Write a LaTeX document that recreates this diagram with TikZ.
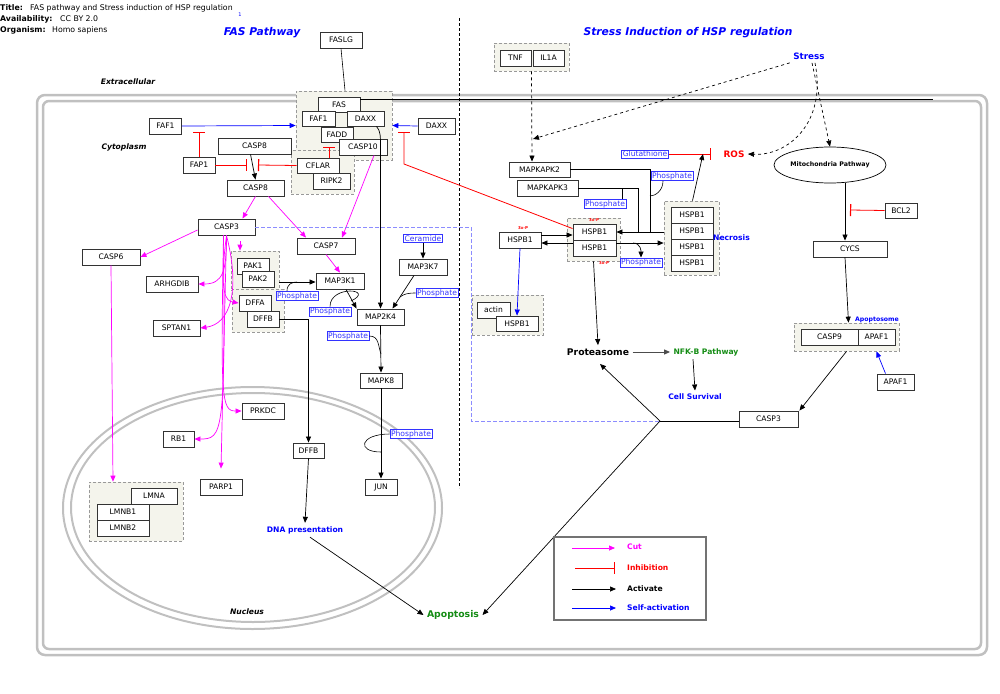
\documentclass[tikz,border=0pt]{standalone}
\usepackage{fontspec}
\setmainfont{DejaVu Sans}
\usetikzlibrary{arrows.meta,shapes.geometric}
\definecolor{groupfill}{RGB}{244,244,236}
\definecolor{membrane}{RGB}{192,192,192}
\definecolor{pathgreen}{RGB}{20,140,20}
\definecolor{cutpink}{RGB}{255,0,255}
\definecolor{hspblue}{RGB}{0,0,255}
\definecolor{inhred}{RGB}{255,0,0}
\begin{document}
\begin{tikzpicture}[x=1pt, y=-1pt,
  every node/.style={font=\fontsize{7.6pt}{9pt}\selectfont},
  box/.style={draw=black!80, line width=0.9pt, fill=white, inner sep=0pt, minimum height=16pt},
  grp/.style={draw=black!40, fill=groupfill, dash pattern=on 3pt off 2pt, line width=0.7pt, inner sep=0pt},
  phos/.style={draw=hspblue!80, text=hspblue!80, fill=white, line width=0.6pt, inner sep=1pt},
  lbl/.style={font=\bfseries\fontsize{7.6pt}{9pt}\selectfont},
  cmp/.style={font=\bfseries\itshape\fontsize{7.6pt}{9pt}\selectfont},
  hdr/.style={anchor=west, inner sep=0pt, font=\fontsize{7.8pt}{9pt}\selectfont},
  tag/.style={text=inhred, font=\bfseries\fontsize{4pt}{5pt}\selectfont, inner sep=0pt},
  actarrow/.style={draw=black, line width=0.7pt, -{Triangle[length=6pt,width=5pt]}},
  cutarrow/.style={draw=cutpink, line width=0.7pt, -{Triangle[length=6pt,width=5pt]}},
  selfarrow/.style={draw=hspblue, line width=0.7pt, -{Triangle[length=6pt,width=5pt]}},
  inharrow/.style={draw=inhred, line width=0.8pt, -{Bar[width=12pt,line width=1.2pt]}},
  phline/.style={draw=black, line width=0.6pt},
  blueline/.style={color=hspblue!45, dash pattern=on 4pt off 2pt, line width=1pt}]
  \useasboundingbox (0,0) rectangle (1000,693);
  % header and titles
  \node[hdr, font=\bfseries\fontsize{7.8pt}{9pt}\selectfont] (titlekey) at (0,8) {Title:};
  \node[hdr] (titleval) at (30,8) {FAS pathway and Stress induction of HSP regulation};
  \node[hdr, font=\bfseries\fontsize{7.8pt}{9pt}\selectfont] (availkey) at (0,19) {Availability:};
  \node[hdr] (availval) at (60,19) {CC BY 2.0};
  \node[hdr, font=\bfseries\fontsize{7.8pt}{9pt}\selectfont] (orgkey) at (0,30) {Organism:};
  \node[hdr] (orgval) at (52,30) {Homo sapiens};
  \node[text=hspblue, font=\fontsize{5pt}{6pt}\selectfont] (refone) at (240,15) {1};
  \node[text=hspblue, font=\bfseries\itshape\fontsize{10.7pt}{12pt}\selectfont] (fastitle) at (262,33) {FAS Pathway};
  \node[text=hspblue, font=\bfseries\itshape\fontsize{10.7pt}{12pt}\selectfont] (hsptitle) at (688,33) {Stress Induction of HSP regulation};
  % compartments
  \draw[membrane, line width=2.5pt, rounded corners=8pt] (37,95) rectangle (987,655);
  \draw[membrane, line width=2.5pt, rounded corners=6pt] (43,101) rectangle (981,649);
  \draw[membrane, line width=2pt] (252.5,508) ellipse [x radius=189.5pt, y radius=121pt];
  \draw[membrane, line width=2pt] (253,507.5) ellipse [x radius=182pt, y radius=114.5pt];
  \coordinate (sepTop) at (459,18);
  \coordinate (sepBot) at (459,488);
  \draw[dash pattern=on 3pt off 2pt, line width=0.6pt] (sepTop) -- (sepBot);
  \node[cmp] (extra) at (128,82) {Extracellular};
  \node[cmp] (cyto) at (124,147) {Cytoplasm};
  \node[cmp] (nucl) at (247,612) {Nucleus};
  % groups
  \node[grp, minimum width=96pt, minimum height=69pt] (fasgrp) at (344,125.5) {};
  \node[grp, minimum width=63pt, minimum height=44pt] (cflargrp) at (322.5,172) {};
  \node[grp, minimum width=48pt, minimum height=39pt] (pakgrp) at (255,270.5) {};
  \node[grp, minimum width=52pt, minimum height=43pt] (dffgrp) at (258,310.5) {};
  \node[grp, minimum width=94pt, minimum height=59pt] (lamgrp) at (136,511.5) {};
  \node[grp, minimum width=75pt, minimum height=28pt] (tnfgrp) at (531.5,57) {};
  \node[grp, minimum width=55pt, minimum height=74pt] (hspgrpR) at (691.5,238) {};
  \node[grp, minimum width=53pt, minimum height=43pt] (hspgrpM) at (593.5,239.5) {};
  \node[grp, minimum width=71pt, minimum height=40pt] (actgrp) at (507.5,315) {};
  \node[grp, minimum width=105pt, minimum height=28pt] (apgrp) at (846.5,337) {};
  % FAS pathway
  \node[box, minimum width=42pt] (faslg) at (341,40) {FASLG};
  \node[box, minimum width=42pt, minimum height=15pt] (fas) at (339,105) {FAS};
  \node[box, minimum width=33pt, minimum height=15pt] (faf1b) at (318.5,118.5) {FAF1};
  \node[box, minimum width=37pt, minimum height=15pt] (daxxb) at (365.5,118.5) {DAXX};
  \node[box, minimum width=32pt, minimum height=15pt] (fadd) at (337,134.5) {FADD};
  \node[box, minimum width=48pt] (casp10) at (363,147) {CASP10};
  \node[box, minimum width=42pt, minimum height=15pt] (cflar) at (318,165.5) {CFLAR};
  \node[box, minimum width=37pt] (ripk2) at (331.5,181) {RIPK2};
  \node[box, minimum width=32pt] (faf1a) at (165.5,126) {FAF1};
  \node[box, minimum width=37pt] (daxxa) at (436.5,126) {DAXX};
  \node[box, minimum width=73pt] (casp8a) at (254.5,146) {CASP8};
  \node[box, minimum width=32pt] (fap1) at (199,165) {FAP1};
  \node[box, minimum width=57pt] (casp8b) at (255.5,188) {CASP8};
  \node[box, minimum width=57pt] (casp3a) at (226.5,227) {CASP3};
  \node[box, minimum width=58pt] (casp6) at (111,257) {CASP6};
  \node[box, minimum width=58pt] (casp7) at (326,246) {CASP7};
  \node[box, minimum width=52pt] (arhgdib) at (172,284) {ARHGDIB};
  \node[box, minimum width=47pt] (sptan1) at (176.5,328) {SPTAN1};
  \node[box, minimum width=32pt] (pak1) at (253,266) {PAK1};
  \node[box, minimum width=32pt] (pak2) at (258,279) {PAK2};
  \node[box, minimum width=32pt] (dffa) at (255,303) {DFFA};
  \node[box, minimum width=32pt] (dffbA) at (263,319) {DFFB};
  \node[box, minimum width=48pt] (map3k1) at (340,281) {MAP3K1};
  \node[box, minimum width=48pt] (map3k7) at (423,267) {MAP3K7};
  \node[phos] (ceramide) at (423,238.5) {Ceramide};
  \node[box, minimum width=47pt] (map2k4) at (380.5,317) {MAP2K4};
  \node[phos] (phosA) at (297,296) {Phosphate};
  \node[phos] (phosB) at (330,311.5) {Phosphate};
  \node[phos] (phosC) at (437,293) {Phosphate};
  \node[phos] (phosD) at (348,336) {Phosphate};
  \node[box, minimum width=42pt, minimum height=15pt] (mapk8) at (381,380.5) {MAPK8};
  \node[phos] (phosE) at (411,434) {Phosphate};
  \node[box, minimum width=32pt] (jun) at (381,487) {JUN};
  \node[box, minimum width=31pt, minimum height=15pt] (dffbB) at (308.5,450.5) {DFFB};
  \node[box, minimum width=42pt] (prkdc) at (263,411) {PRKDC};
  \node[box, minimum width=31pt] (rb1) at (178.5,439) {RB1};
  \node[box, minimum width=42pt] (parp1) at (221,487) {PARP1};
  \node[box, minimum width=46pt] (lmna) at (154,496) {LMNA};
  \node[box, minimum width=52pt] (lmnb1) at (123,512) {LMNB1};
  \node[box, minimum width=52pt] (lmnb2) at (123,528) {LMNB2};
  \node[lbl, text=hspblue] (dna) at (305,530) {DNA presentation};
  \node[lbl, text=pathgreen, font=\bfseries\fontsize{9.3pt}{11pt}\selectfont] (apoptosis) at (453,615) {Apoptosis};
  % stress induction of HSP
  \node[box, minimum width=31pt] (tnf) at (515.5,58) {TNF};
  \node[box, minimum width=31pt] (il1a) at (548.5,58) {IL1A};
  \node[lbl, text=hspblue, font=\bfseries\fontsize{8.8pt}{10pt}\selectfont] (stress) at (809,56) {Stress};
  \node[lbl, text=inhred, font=\bfseries\fontsize{8.9pt}{10pt}\selectfont] (ros) at (734,154) {ROS};
  \node[draw, ellipse, line width=0.7pt, minimum width=112pt, minimum height=36pt, inner sep=0pt,
    font=\bfseries\fontsize{6.3pt}{7pt}\selectfont] (mito) at (830,165) {Mitochondria Pathway};
  \node[phos] (glut) at (645,154) {Glutathione};
  \node[box, minimum width=61pt, minimum height=15pt] (mapkapk2) at (539.5,169.5) {MAPKAPK2};
  \node[box, minimum width=61pt] (mapkapk3) at (547.5,188) {MAPKAPK3};
  \node[phos] (phosF) at (672,176) {Phosphate};
  \node[phos] (phosG) at (605,204) {Phosphate};
  \node[box, minimum width=42pt] (hspR1) at (692,215) {HSPB1};
  \node[box, minimum width=42pt] (hspR2) at (692,231) {HSPB1};
  \node[box, minimum width=42pt] (hspR3) at (692,247) {HSPB1};
  \node[box, minimum width=42pt] (hspR4) at (692,263) {HSPB1};
  \node[lbl, text=hspblue, anchor=west, inner sep=0pt] (necrosis) at (713,238) {Necrosis};
  \node[box, minimum width=43pt] (hspM1) at (594.5,232) {HSPB1};
  \node[box, minimum width=43pt] (hspM2) at (594.5,248) {HSPB1};
  \node[box, minimum width=42pt] (hspL) at (520,240) {HSPB1};
  \node[phos] (phosH) at (641,262.5) {Phosphate};
  \node[tag] (tagM) at (594,220) {3x-P};
  \node[tag] (tagN) at (604,263) {3x-P};
  \node[tag] (tagL) at (523,228) {3x-P};
  \node[box, minimum width=33pt] (actin) at (493.5,310) {actin};
  \node[box, minimum width=42pt, minimum height=15pt] (hspA) at (517,323.5) {HSPB1};
  \node[lbl, font=\bfseries\fontsize{9.2pt}{10pt}\selectfont] (proteasome) at (598,352) {Proteasome};
  \node[lbl, text=pathgreen] (nfkb) at (706,352) {NFK-B Pathway};
  \node[lbl, text=hspblue] (survival) at (695,397) {Cell Survival};
  \node[box, minimum width=59pt] (casp3b) at (768.5,419) {CASP3};
  \node[box, minimum width=32pt, minimum height=15pt] (bcl2) at (901,210.5) {BCL2};
  \node[box, minimum width=74pt] (cycs) at (850,249) {CYCS};
  \node[box, minimum width=57pt] (casp9) at (829.5,337) {CASP9};
  \node[box, minimum width=37pt] (apaf1a) at (876.5,337) {APAF1};
  \node[lbl, text=hspblue, font=\bfseries\fontsize{6.2pt}{7pt}\selectfont] (apotag) at (877,320) {Apoptosome};
  \node[box, minimum width=37pt] (apaf1b) at (895.5,382) {APAF1};
  % anchor points on lines
  \coordinate (memA) at (360,99);
  \coordinate (memB) at (933,99);
  \coordinate (fafbar) at (199,132);
  \coordinate (c8barL) at (247,165);
  \coordinate (c8barR) at (258,165);
  \coordinate (cflarbar) at (329,147);
  \coordinate (daxbar) at (404,132);
  \coordinate (daxbend) at (404,164);
  \coordinate (pA) at (297,282);
  \coordinate (pB) at (351,301);
  \coordinate (pC) at (400,297);
  \coordinate (pD) at (381,354);
  \coordinate (pE) at (381,452);
  \coordinate (pF) at (650,196);
  \coordinate (pG) at (622,188);
  \coordinate (pH) at (633,243);
  \coordinate (mk2in) at (533,139);
  \coordinate (glutmid) at (703,154);
  \coordinate (hjoinA) at (650,232);
  \coordinate (hjoinB) at (638,232);
  \coordinate (bclbar) at (850,210);
  \coordinate (cjoin) at (660,421);
  \coordinate (bluecorner) at (471,421);
  % FAS connectors
  \draw[phline] (memA) -- (memB);
  \draw[phline] (faslg.south) -- ([xshift=1pt]fasgrp.north);
  \draw[selfarrow] (faf1a.east) -- (fasgrp.west);
  \draw[selfarrow] (daxxa.west) -- (fasgrp.east);
  \draw[inharrow] (fap1.north) -- (fafbar);
  \draw[actarrow] ([xshift=-4pt]casp8a.south) -- (casp8b.north);
  \draw[inharrow] (fap1.east) -- (c8barL);
  \draw[inharrow] (cflar.west) -- (c8barR);
  \draw[inharrow] ([xshift=11pt]cflar.north) -- (cflarbar);
  \draw[actarrow] ([xshift=11pt]daxxb.south) .. controls +(4,4) and +(0,-10) .. ([yshift=-20pt]map2k4.north |- daxxb.south) -- (map2k4.north);
  \draw[inharrow] ([yshift=-5pt]hspM1.north west) -- (daxbend) -- (daxbar);
  \draw[cutarrow] ([xshift=11pt]casp10.south) -- ([xshift=16pt]casp7.north);
  \draw[cutarrow] (casp8b.south) -- ([xshift=16pt]casp3a.north);
  \draw[cutarrow] ([xshift=13pt]casp8b.south) -- ([xshift=-20pt]casp7.north);
  \draw[cutarrow] ([yshift=-3pt]casp3a.west) -- (casp6.east);
  \draw[cutarrow] ([xshift=13.5pt,yshift=-6pt]casp3a.south) -- ([xshift=-15pt]pakgrp.north);
  \draw[cutarrow] (casp3a.south) -- ([yshift=10pt]parp1.north);
  \draw[cutarrow] (casp3a.south) .. controls +(0,35) and +(25,0) .. (arhgdib.east);
  \draw[cutarrow] (casp3a.south) .. controls +(-8,60) and +(-12,-2) .. (dffa.west);
  \draw[cutarrow] (casp3a.south) .. controls +(14,55) and +(30,-4) .. (sptan1.east);
  \draw[cutarrow] ([xshift=-3pt]casp3a.south) .. controls +(-3,165) and +(-20,0) .. (prkdc.west);
  \draw[cutarrow] ([xshift=-3pt]casp3a.south) .. controls +(2,200) and +(28,0) .. (rb1.east);
  \draw[cutarrow] (casp6.south) -- ([xshift=-23pt]lamgrp.north);
  \draw[cutarrow] (casp7.south) -- (map3k1.north);
  \draw[actarrow] ([yshift=-11.5pt]pakgrp.east) -- ([yshift=-1pt]map3k1.west);
  \draw[phline] ([xshift=-10pt]phosA.north) .. controls +(0,-7) and +(-5,0) .. (pA);
  \draw[actarrow] ([xshift=6pt]map3k1.south) -- (map2k4.north west);
  \draw[phline] (phosB.north) .. controls +(0,-22) and +(25,-12) .. (pB);
  \draw[actarrow] (ceramide.south) -- (map3k7.north);
  \draw[actarrow] ([xshift=-9pt]map3k7.south) -- ([xshift=12pt]map2k4.north);
  \draw[phline] (phosC.west) .. controls +(-8,0) and +(4,-3) .. (pC);
  \draw[actarrow] (map2k4.south) -- (mapk8.north);
  \draw[phline] (phosD.east) .. controls +(10,0) and +(-3,-8) .. (pD);
  \draw[actarrow] (mapk8.south) -- (jun.north);
  \draw[phline] (phosE.west) .. controls +(-30,0) and +(-25,0) .. (pE);
  \draw[actarrow] (dffbA.east) -| (dffbB.north);
  \draw[actarrow] (dffbB.south) -- (dna.north);
  \draw[actarrow] ([xshift=5pt]dna.south) -- (apoptosis.west);
  % HSP connectors
  \draw[actarrow, dashed] (tnfgrp.south) -- ([xshift=-7.5pt]mapkapk2.north);
  \draw[actarrow, dashed] (stress.south west) -- (mk2in);
  \draw[actarrow, dashed] ([xshift=3pt]stress.south) -- (mito.north);
  \draw[actarrow, dashed] ([xshift=6pt]stress.south) .. controls +(12,60) and +(40,2) .. (ros.east);
  \draw[inharrow] (glut.east) -- ([xshift=-9pt]ros.west);
  \draw[actarrow] ([xshift=1pt]hspgrpR.north) -- (glutmid);
  \draw[phline] (mapkapk2.east) -| (hjoinA);
  \draw[phline] (mapkapk3.east) -| (hjoinB);
  \draw[phline] ([xshift=-9pt]phosF.south) .. controls +(0,10) and +(5,0) .. (pF);
  \draw[phline] ([xshift=17pt]phosG.north) -- (pG);
  \draw[actarrow] ([yshift=6pt]hspgrpR.west) -- (hspM1.east);
  \draw[actarrow] ([yshift=5pt]hspM2.east) -- ([yshift=-5pt]hspgrpR.west);
  \draw[actarrow] (pH) .. controls +(8,0) and +(0,-6) .. (phosH.north);
  \draw[actarrow] ([yshift=5pt]hspL.east) -- ([yshift=-3pt]hspM1.west);
  \draw[actarrow] ([yshift=5pt]hspM2.west) -- ([yshift=-3pt]hspL.east);
  \draw[selfarrow] (hspL.south) -- (hspA.north);
  \draw[actarrow] (hspgrpM.south) -- (proteasome.north);
  \draw[actarrow, line width=1pt, draw=black!70] (proteasome.east) -- (nfkb.west);
  \draw[actarrow] ([xshift=-13pt]nfkb.south) -- (survival.north);
  \draw[actarrow] ([xshift=15pt]mito.south) -- ([xshift=-5pt]cycs.north);
  \draw[inharrow] (bcl2.west) -- (bclbar);
  \draw[actarrow] ([xshift=-5pt]cycs.south) -- ([xshift=2pt]apgrp.north);
  \draw[selfarrow] ([xshift=-10pt]apaf1b.north) -- ([xshift=30pt]apgrp.south);
  \draw[actarrow] (apgrp.south) -- ([xshift=1pt]casp3b.north east);
  \draw[phline] ([yshift=-2pt]casp3b.west) -- (cjoin);
  \draw[actarrow] (cjoin) -- ([xshift=2pt,yshift=-5pt]proteasome.south);
  \draw[actarrow] (cjoin) -- (apoptosis.east);
  \draw[blueline] (casp3a.east) -| (bluecorner) -- (cjoin);
  % legend
  \node[draw=black!55, line width=1.2pt, minimum width=152pt, minimum height=83pt, inner sep=0pt] (legend) at (630,578.5) {};
  \coordinate (legCutA) at (572,548);
  \coordinate (legCutB) at (615,548);
  \coordinate (legInhA) at (575,568);
  \coordinate (legInhB) at (615,568);
  \coordinate (legActA) at (572,589);
  \coordinate (legActB) at (616,589);
  \coordinate (legSelfA) at (572,608);
  \coordinate (legSelfB) at (616,608);
  \draw[cutarrow] (legCutA) -- (legCutB);
  \draw[inharrow] (legInhA) -- (legInhB);
  \draw[actarrow] (legActA) -- (legActB);
  \draw[selfarrow] (legSelfA) -- (legSelfB);
  \node[lbl, text=cutpink, anchor=west, inner sep=0pt] (legcut) at (627,547) {Cut};
  \node[lbl, text=inhred, anchor=west, inner sep=0pt] (leginh) at (627,568) {Inhibition};
  \node[lbl, anchor=west, inner sep=0pt] (legact) at (627,589) {Activate};
  \node[lbl, text=hspblue, anchor=west, inner sep=0pt] (legself) at (627,608) {Self-activation};
\end{tikzpicture}
\end{document}
